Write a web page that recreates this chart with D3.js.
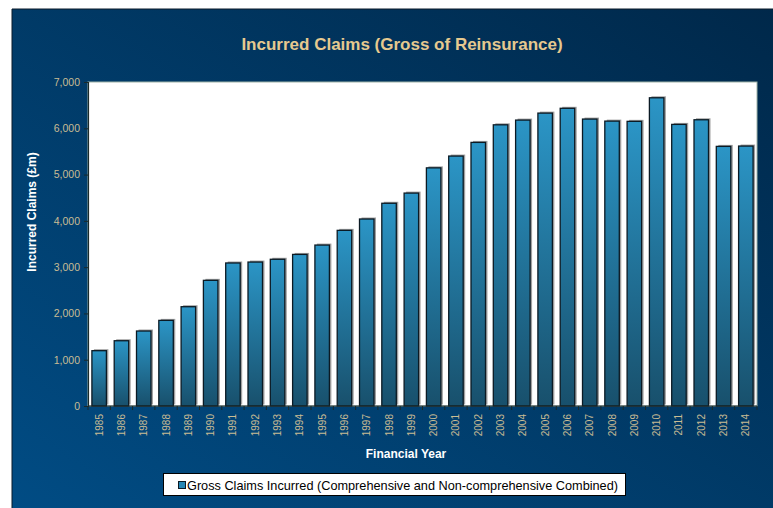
<!DOCTYPE html>
<html>
<head>
<meta charset="utf-8">
<script src="https://cdn.jsdelivr.net/npm/d3@7/dist/d3.min.js"></script>
<style>
  html, body { margin: 0; padding: 0; background: #ffffff; }
  svg { display: block; }
  text { font-family: "Liberation Sans", Arial, sans-serif; }
</style>
</head>
<body>
<svg id="chart" width="773" height="508"></svg>
<script>
// Financial years and gross incurred claims (£m)
const years = ["1985","1986","1987","1988","1989","1990","1991","1992","1993","1994",
  "1995","1996","1997","1998","1999","2000","2001","2002","2003","2004",
  "2005","2006","2007","2008","2009","2010","2011","2012","2013","2014"];
const claims = [1195, 1410, 1620, 1850, 2145, 2715, 3090, 3110, 3170, 3275,
  3477, 3795, 4040, 4380, 4600, 5145, 5400, 5695, 6075, 6177,
  6328, 6432, 6199, 6155, 6150, 6659, 6084, 6184, 5609, 5616];
const yTicks = [0, 1000, 2000, 3000, 4000, 5000, 6000, 7000];

const svg = d3.select("#chart");
const W = 773, H = 508;
const plot = { left: 88, top: 82, right: 757, bottom: 406 };

const defs = svg.append("defs");
const bg = defs.append("linearGradient").attr("id", "bgGrad")
  .attr("x1", "0%").attr("y1", "100%").attr("x2", "100%").attr("y2", "0%");
bg.append("stop").attr("offset", "0%").attr("stop-color", "#014c84");
bg.append("stop").attr("offset", "100%").attr("stop-color", "#00284a");

const barGrad = defs.append("linearGradient").attr("id", "barGrad")
  .attr("x1", "0").attr("y1", "0").attr("x2", "0").attr("y2", "1");
barGrad.append("stop").attr("offset", "0%").attr("stop-color", "#2b95c6");
barGrad.append("stop").attr("offset", "100%").attr("stop-color", "#18506c");

// Panel background
svg.append("rect").attr("x", 12).attr("y", 9).attr("width", W - 12).attr("height", H - 9)
  .attr("fill", "url(#bgGrad)");
svg.append("line").attr("x1", 12).attr("y1", 9).attr("x2", W).attr("y2", 9)
  .attr("stroke", "#0a1a2a").attr("stroke-width", 1);
svg.append("line").attr("x1", 12).attr("y1", 9).attr("x2", 12).attr("y2", H)
  .attr("stroke", "#0a1a2a").attr("stroke-width", 1);

// Title
svg.append("text").attr("x", 402).attr("y", 50).attr("text-anchor", "middle")
  .attr("fill", "#e6c98f").attr("font-size", 17).attr("font-weight", "bold")
  .text("Incurred Claims (Gross of Reinsurance)");

// Plot area
svg.append("rect").attr("x", plot.left).attr("y", plot.top)
  .attr("width", plot.right - plot.left).attr("height", plot.bottom - plot.top)
  .attr("fill", "#ffffff").attr("stroke", "#9fb3a8").attr("stroke-width", 1);

const x = d3.scaleBand().domain(years).range([plot.left, plot.right]).paddingInner(0.35).paddingOuter(0.175);
const xb = d3.scaleBand().domain(years).range([plot.left, plot.right]);
const y = d3.scaleLinear().domain([0, 7000]).range([plot.bottom, plot.top]);

const data = years.map((yr, i) => ({ year: yr, value: claims[i] }));

// Bar shadows
svg.append("g").selectAll("rect").data(data).join("rect")
  .attr("x", d => x(d.year) + 2)
  .attr("y", d => y(d.value) - 1.5)
  .attr("width", x.bandwidth())
  .attr("height", d => plot.bottom - y(d.value))
  .attr("fill", "#a0a0a0");

// Bars
svg.append("g").selectAll("rect").data(data).join("rect")
  .attr("x", d => x(d.year))
  .attr("y", d => y(d.value))
  .attr("width", x.bandwidth())
  .attr("height", d => plot.bottom - y(d.value))
  .attr("fill", "url(#barGrad)")
  .attr("stroke", "#0b1a24").attr("stroke-width", 1.3);

// Y axis
const yAxis = svg.append("g").attr("transform", `translate(${plot.left},0)`)
  .call(d3.axisLeft(y).tickValues(yTicks).tickSize(4).tickPadding(4).tickFormat(d3.format(",")));
yAxis.select(".domain").attr("stroke", "#1a2a2a").attr("stroke-width", 1.2);
yAxis.selectAll(".tick line").attr("stroke", "#1a2a2a");
yAxis.selectAll(".tick text").attr("fill", "#c9bc94").attr("font-size", 10.5)
  .attr("font-family", "Liberation Sans, Arial, sans-serif");

// X axis: ticks at category boundaries
const xAxis = svg.append("g").attr("transform", `translate(0,${plot.bottom})`);
xAxis.append("line").attr("x1", plot.left).attr("x2", plot.right).attr("y1", 0).attr("y2", 0)
  .attr("stroke", "#1a2a2a").attr("stroke-width", 1.2);
xAxis.selectAll("line.bt").data(years.concat(["end"])).join("line").attr("class", "bt")
  .attr("x1", (d, i) => plot.left + i * xb.step()).attr("x2", (d, i) => plot.left + i * xb.step())
  .attr("y1", 0).attr("y2", 4).attr("stroke", "#1a2a2a");
xAxis.selectAll("text").data(years).join("text")
  .attr("transform", d => `translate(${xb(d) + xb.bandwidth() / 2 + 3.5},8) rotate(-90)`)
  .attr("text-anchor", "end").attr("fill", "#c9bc94").attr("font-size", 10)
  .text(d => d);

// Axis titles
svg.append("text").attr("x", 406).attr("y", 458).attr("text-anchor", "middle")
  .attr("fill", "#ffffff").attr("font-size", 12).attr("font-weight", "bold")
  .text("Financial Year");
svg.append("text").attr("transform", "translate(36,212) rotate(-90)").attr("text-anchor", "middle")
  .attr("fill", "#ffffff").attr("font-size", 12).attr("font-weight", "bold")
  .text("Incurred Claims (£m)");

// Legend
const legend = svg.append("g");
legend.append("rect").attr("x", 163.5).attr("y", 473.5).attr("width", 462).attr("height", 22)
  .attr("fill", "#ffffff").attr("stroke", "#000000").attr("stroke-width", 1);
legend.append("rect").attr("x", 178.5).attr("y", 481.5).attr("width", 7).attr("height", 7)
  .attr("fill", "#2586b4").attr("stroke", "#0b1a24").attr("stroke-width", 1);
legend.append("text").attr("x", 187).attr("y", 489.5).attr("fill", "#000000").attr("font-size", 12.7)
  .attr("textLength", 431).attr("lengthAdjust", "spacingAndGlyphs")
  .text("Gross Claims Incurred (Comprehensive and Non-comprehensive Combined)");
</script>
</body>
</html>
